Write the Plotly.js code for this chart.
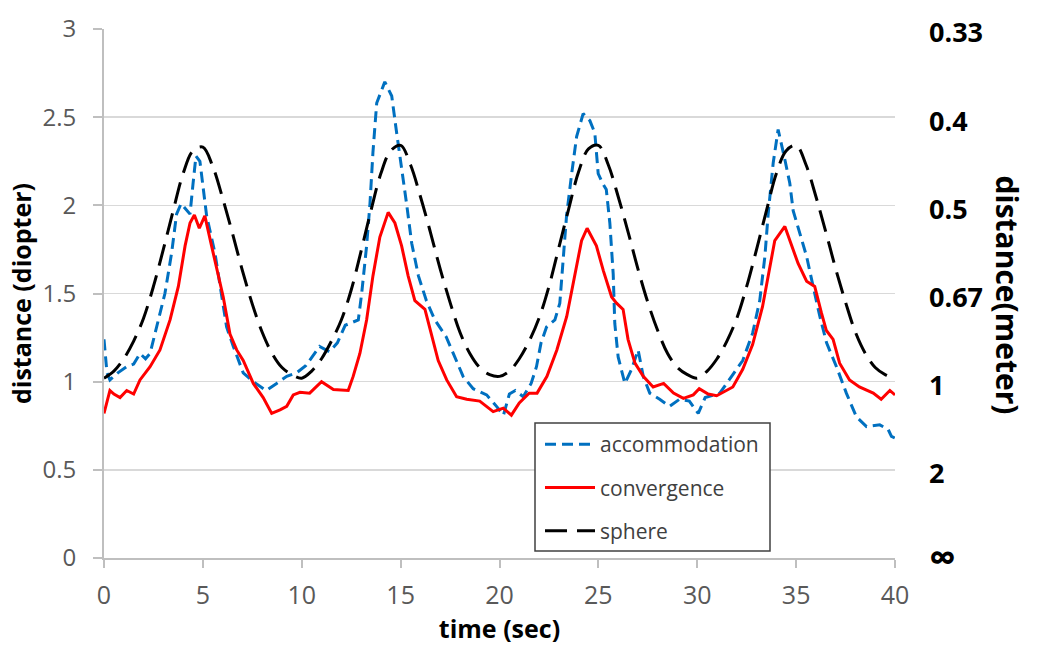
<!DOCTYPE html>
<html>
<head>
<meta charset="utf-8">
<script src="https://cdn.plot.ly/plotly-3.0.1.min.js"></script>
<style>
  html, body { margin: 0; padding: 0; background: #ffffff; }
  #chart { width: 1053px; height: 646px; }
</style>
</head>
<body>
<div id="chart"></div>
<script>
// ---- data ----
const timeAccommodation = [0,0.15,0.3,0.7,1.15,1.5,1.82,2.1,2.33,2.66,3.08,3.42,3.67,3.9,4.35,4.5,4.65,4.85,5.0,5.19,5.61,5.86,6.2,6.54,7.04,7.55,8.2,8.73,9.24,9.74,10.2,10.9,11.4,11.8,12.2,12.86,13.03,13.28,13.45,13.6,13.79,14.2,14.55,14.8,15.05,15.3,15.56,15.9,16.3,16.73,17.3,17.75,18.16,18.67,19.35,19.85,20.2,20.5,20.8,21.2,21.6,21.87,22.1,22.38,22.8,23.05,23.22,23.39,23.65,23.9,24.23,24.57,24.82,24.99,25.24,25.4,25.58,25.75,25.83,26.0,26.34,26.68,27.01,27.27,27.6,28.1,28.6,29.1,29.6,30.05,30.4,31.14,31.8,32.3,32.8,33.16,33.42,33.59,33.84,34.09,34.43,34.68,34.85,35.19,35.53,35.86,36.2,36.54,37.04,37.54,38.05,38.56,39.23,39.65,39.82,40];
const accommodation = [1.24,1.05,1.01,1.05,1.085,1.1,1.16,1.13,1.16,1.31,1.50,1.73,1.95,2.01,1.95,2.12,2.28,2.25,2.1,1.94,1.73,1.54,1.31,1.20,1.05,1.0,0.95,0.99,1.03,1.05,1.09,1.20,1.17,1.22,1.32,1.35,1.50,1.77,2.01,2.30,2.58,2.70,2.62,2.41,2.22,2.01,1.785,1.60,1.46,1.35,1.255,1.14,1.03,0.96,0.925,0.86,0.81,0.93,0.95,0.915,0.99,1.085,1.22,1.31,1.35,1.445,1.71,1.94,2.18,2.39,2.52,2.48,2.41,2.18,2.12,2.09,1.90,1.61,1.33,1.14,0.99,1.07,1.18,1.03,0.935,0.90,0.86,0.90,0.89,0.82,0.91,0.935,1.04,1.12,1.275,1.46,1.71,1.955,2.24,2.43,2.26,2.125,1.97,1.84,1.71,1.54,1.37,1.22,1.085,0.935,0.80,0.745,0.755,0.73,0.69,0.68];

const timeConvergence = [0,0.3,0.5,0.81,1.15,1.5,1.82,2.33,2.83,3.34,3.76,4.1,4.35,4.57,4.82,5.1,5.44,5.70,6.03,6.37,6.71,7.04,7.55,8.05,8.48,8.9,9.24,9.57,9.91,10.4,11.0,11.6,12.35,12.6,12.94,13.28,13.6,13.95,14.37,14.71,15.05,15.38,15.72,16.23,16.57,16.9,17.33,17.83,18.34,19.0,19.68,20.19,20.6,21.0,21.5,21.9,22.4,22.9,23.4,23.8,24.15,24.43,24.9,25.25,25.67,25.92,26.25,26.5,26.85,27.27,27.77,28.3,28.8,29.3,29.8,30.1,30.55,30.98,31.8,32.3,32.8,33.3,33.67,33.92,34.43,34.77,35.1,35.53,35.94,36.28,36.53,36.87,37.2,37.7,38.2,38.9,39.3,39.74,40];
const convergence = [0.82,0.95,0.93,0.91,0.95,0.93,1.01,1.085,1.18,1.35,1.54,1.77,1.90,1.945,1.87,1.94,1.77,1.65,1.48,1.27,1.18,1.12,0.99,0.91,0.82,0.84,0.86,0.925,0.94,0.935,1.0,0.955,0.95,1.03,1.16,1.35,1.60,1.82,1.96,1.90,1.77,1.60,1.46,1.41,1.26,1.12,1.01,0.915,0.90,0.89,0.83,0.85,0.81,0.88,0.935,0.935,1.03,1.18,1.37,1.60,1.80,1.87,1.77,1.63,1.48,1.445,1.41,1.24,1.105,1.03,0.97,0.99,0.935,0.905,0.925,0.96,0.93,0.92,0.97,1.07,1.21,1.425,1.65,1.80,1.88,1.77,1.67,1.57,1.54,1.39,1.29,1.24,1.105,1.01,0.97,0.935,0.90,0.95,0.925];

const timeSphere = [0,0.5,1,1.5,2,2.5,3,3.5,4,4.5,5,5.5,6,6.5,7,7.5,8,8.5,9,9.5,10,10.5,11,11.5,12,12.5,13,13.5,14,14.5,15,15.5,16,16.5,17,17.5,18,18.5,19,19.5,20,20.5,21,21.5,22,22.5,23,23.5,24,24.5,25,25.5,26,26.5,27,27.5,28,28.5,29,29.5,30,30.5,31,31.5,32,32.5,33,33.5,34,34.5,35,35.5,36,36.5,37,37.5,38,38.5,39,39.5,40];
const sphere = [1.02,1.06,1.13,1.23,1.36,1.54,1.75,1.97,2.18,2.31,2.33,2.22,2.04,1.84,1.63,1.44,1.28,1.16,1.08,1.04,
                1.02,1.06,1.13,1.23,1.35,1.52,1.74,1.97,2.18,2.31,2.34,2.23,2.05,1.85,1.64,1.45,1.28,1.16,1.08,1.04,
                1.03,1.06,1.13,1.23,1.36,1.54,1.76,1.98,2.19,2.32,2.34,2.23,2.05,1.85,1.64,1.45,1.29,1.16,1.08,1.04,
                1.02,1.06,1.13,1.23,1.36,1.54,1.75,1.97,2.18,2.31,2.34,2.23,2.05,1.85,1.64,1.45,1.28,1.16,1.08,1.04,
                1.02];

const diopterTicks = [0,0.5,1,1.5,2,2.5,3];
const timeTicks = [0,5,10,15,20,25,30,35,40];
const meterTickText = ['<span style="font-size:38px">∞</span>','2','1','0.67','0.5','0.4','0.33'];
const seriesNames = ['accommodation','convergence','sphere'];

// ---- chart ----
const FONT = '"Open Sans", "Noto Sans", sans-serif';

const traces = [
  {x: timeAccommodation, y: accommodation, name: seriesNames[0], type: 'scatter', mode: 'lines',
   legendgroup: 'a', line: {color: '#0070C0', width: 3, dash: '11px,6px'}},
  {x: timeConvergence, y: convergence, name: seriesNames[1], type: 'scatter', mode: 'lines',
   legendgroup: 'b', line: {color: '#FF0000', width: 3}},
  {x: timeSphere, y: sphere, name: seriesNames[2], type: 'scatter', mode: 'lines',
   legendgroup: 'c', line: {color: '#000000', width: 3, dash: '22px,10px', shape: 'spline'}},
  // empty trace so that the right-hand (meter) axis is drawn
  {x: [], y: [], yaxis: 'y2', type: 'scatter', mode: 'lines', showlegend: false, hoverinfo: 'skip'}
];

const layout = {
  width: 1053, height: 646,
  margin: {l: 104, r: 158, t: 29, b: 88},
  paper_bgcolor: '#ffffff', plot_bgcolor: '#ffffff',
  showlegend: true,
  legend: {
    x: (540 - 104) / 791, y: (558 - 424) / 529, xanchor: 'left', yanchor: 'top',
    bgcolor: 'rgba(0,0,0,0)', borderwidth: 0, itemwidth: 50,
    font: {family: FONT, size: 21, color: '#404040'},
    traceorder: 'grouped', tracegroupgap: 13
  },
  shapes: [{
    type: 'rect', xref: 'paper', yref: 'paper', layer: 'above',
    x0: (535 - 104) / 791, x1: (770 - 104) / 791, y0: (558 - 551) / 529, y1: (558 - 423) / 529,
    fillcolor: '#ffffff', line: {color: '#404040', width: 1.5}
  }],
  xaxis: {
    range: [0, 40], tickvals: timeTicks,
    showgrid: false, zeroline: false,
    showline: true, linecolor: '#bfbfbf', linewidth: 2,
    ticks: 'outside', ticklen: 8, tickwidth: 2, tickcolor: '#bfbfbf',
    tickfont: {family: FONT, size: 25, color: '#595959'}, ticklabelstandoff: 6,
    title: {text: 'time (sec)', font: {family: FONT, size: 25, color: '#000000', weight: 'bold'}, standoff: 0}
  },
  yaxis: {
    range: [0, 3], tickvals: diopterTicks,
    showgrid: true, gridcolor: '#d9d9d9', gridwidth: 1.5, zeroline: false,
    showline: true, linecolor: '#bfbfbf', linewidth: 2,
    ticks: 'outside', ticklen: 9, tickwidth: 2, tickcolor: '#bfbfbf',
    tickfont: {family: FONT, size: 24, color: '#595959'}, ticklabelstandoff: 12,
    title: {text: 'distance (diopter)', font: {family: FONT, size: 25, color: '#000000', weight: 'bold'}, standoff: 4}
  },
  yaxis2: {
    overlaying: 'y', side: 'right', anchor: 'x',
    range: [0, 3], tickvals: diopterTicks, ticktext: meterTickText,
    showgrid: false, zeroline: false, showline: false, ticks: '',
    tickfont: {family: FONT, size: 27, color: '#000000', weight: 'bold'},
    ticklabelstandoff: 33, ticklabelshift: 4
  },
  annotations: [{
    xref: 'paper', yref: 'paper', x: (1030 - 104) / 791, y: (558 - 295) / 529,
    text: 'distance(meter)', showarrow: false, textangle: 90,
    font: {family: FONT, size: 30, color: '#000000', weight: 'bold'}
  }]
};

Plotly.newPlot('chart', traces, layout, {displayModeBar: false, staticPlot: true});
</script>
</body>
</html>
